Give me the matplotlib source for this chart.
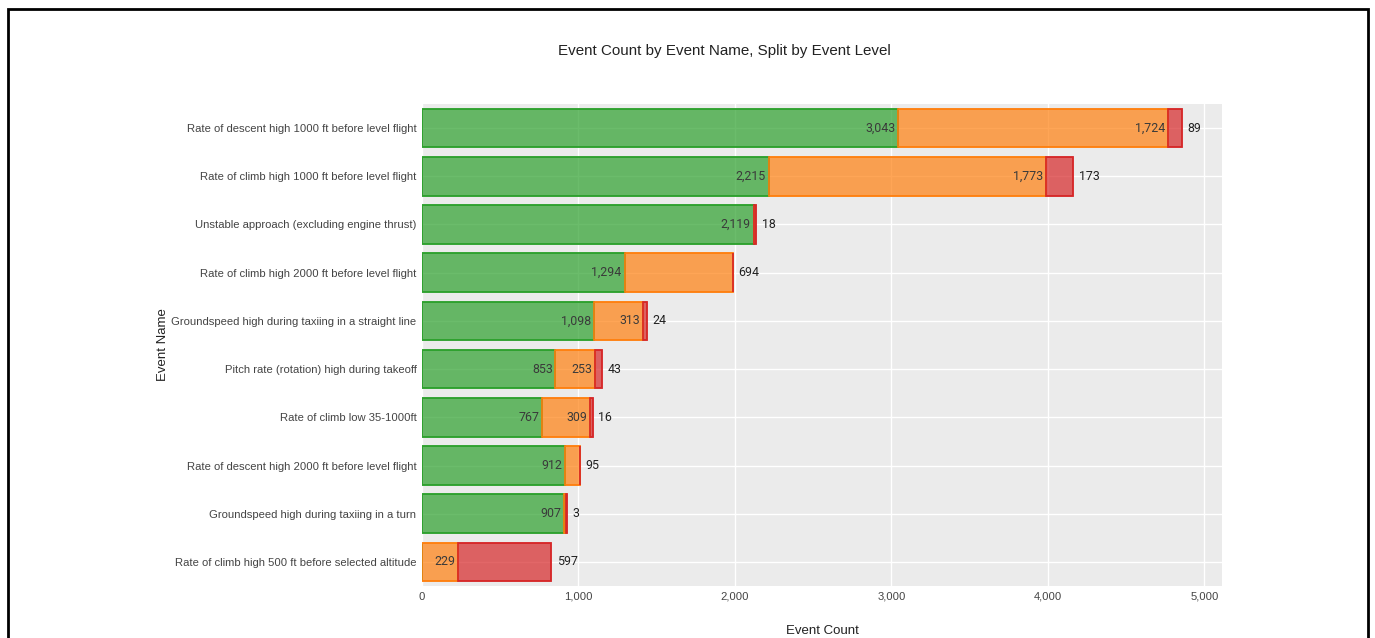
import numpy as np
import matplotlib.pyplot as plt
from matplotlib.patches import Rectangle

# categories, top to bottom
events = [
    'Rate of descent high 1000 ft before level flight',
    'Rate of climb high 1000 ft before level flight',
    'Unstable approach (excluding engine thrust)',
    'Rate of climb high 2000 ft before level flight',
    'Groundspeed high during taxiing in a straight line',
    'Pitch rate (rotation) high during takeoff',
    'Rate of climb low 35-1000ft',
    'Rate of descent high 2000 ft before level flight',
    'Groundspeed high during taxiing in a turn',
    'Rate of climb high 500 ft before selected altitude',
]
low = [3043, 2215, 2119, 1294, 1098, 853, 767, 912, 907, 0]
medium = [1724, 1773, 0, 694, 313, 253, 309, 95, 14, 229]
high = [89, 173, 18, 0, 24, 43, 16, 0, 3, 597]

colors = ['#2ca02c', '#ff7f0e', '#d62728']
levels = [low, medium, high]

plt.rcParams['font.family'] = ['Liberation Sans', 'DejaVu Sans']
fig = plt.figure(figsize=(13.75, 6.38), dpi=100)
ax = fig.add_axes([422 / 1375, 1 - 586 / 638, 800 / 1375, 482 / 638])
ax.set_facecolor('#ebebeb')

y = np.arange(len(events))
left = np.zeros(len(events))
xmax = 5112
px_per_unit = 800 / xmax

for vals, c in zip(levels, colors):
    vals = np.array(vals, dtype=float)
    ax.barh(y, vals, left=left, height=0.8, color=c, alpha=0.7,
            edgecolor=c, linewidth=1.2, zorder=2)
    ax.barh(y, vals, left=left, height=0.8, color='none',
            edgecolor=c, linewidth=1.2, zorder=3)
    left += vals

# labels: last nonzero segment outside, others inside at end
num_font = ['Roboto', 'DejaVu Sans']
for i in range(len(events)):
    segs = [lv[i] for lv in levels]
    last = max(k for k, v in enumerate(segs) if v > 0)
    start = 0
    for k, v in enumerate(segs):
        if v <= 0:
            continue
        end = start + v
        txt = f'{v:,}'
        if k == last:
            ax.annotate(txt, (end, i), xytext=(4, 0), textcoords='offset points',
                        ha='left', va='center', fontsize=8.9, color='#222222',
                        family=num_font, zorder=4)
        elif v * px_per_unit > len(txt) * 7 + 4:
            ax.annotate(txt, (end, i), xytext=(-2, 0), textcoords='offset points',
                        ha='right', va='center', fontsize=8.9, color='#3a3a3a',
                        family=num_font, zorder=4)
        start = end

ax.set_xlim(0, xmax)
ax.set_ylim(len(events) - 0.5, -0.5)
ax.set_yticks(y)
ax.set_yticklabels(events, fontsize=8.1, color='#444444')
ax.set_xticks([0, 1000, 2000, 3000, 4000, 5000])
ax.set_xticklabels(['0', '1,000', '2,000', '3,000', '4,000', '5,000'], fontsize=8.1, color='#444444')
ax.tick_params(length=0, pad=4)
ax.grid(True, color='white', linewidth=1.0, zorder=0)
ax.set_axisbelow(True)
for s in ax.spines.values():
    s.set_visible(False)

fig.text(724 / 1375, 1 - 51 / 638, 'Event Count by Event Name, Split by Event Level',
         ha='center', va='center', fontsize=10.9, color='#222222')
fig.text(822 / 1375, 1 - 631 / 638, 'Event Count', ha='center', va='center',
         fontsize=9.5, color='#222222')
fig.text(163 / 1375, 1 - 345 / 638, 'Event Name', ha='center', va='center',
         rotation=90, fontsize=9.5, color='#222222')

# screenshot frame
fig.patches.append(Rectangle((8 / 1375, -0.1), 1360 / 1375, 1.1 - 9 / 638,
                             transform=fig.transFigure, fill=False,
                             edgecolor='black', linewidth=2))

fig.savefig('out.png', dpi=100)
